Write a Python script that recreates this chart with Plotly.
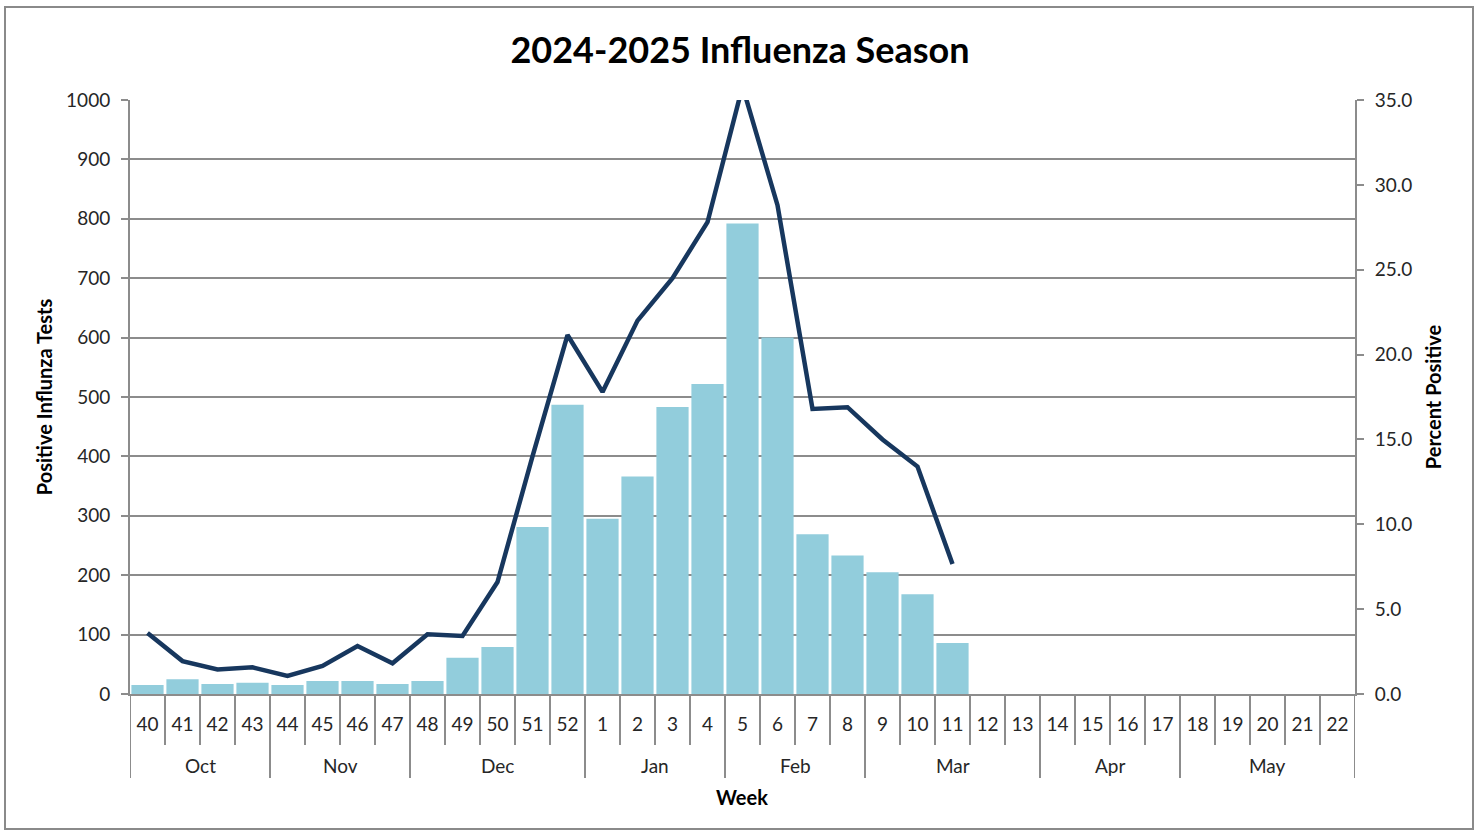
import plotly.graph_objects as go

weeks = ["40", "41", "42", "43", "44", "45", "46", "47", "48", "49", "50", "51", "52",
         "1", "2", "3", "4", "5", "6", "7", "8", "9", "10", "11", "12", "13",
         "14", "15", "16", "17", "18", "19", "20", "21", "22"]
positive_tests = [15, 25, 17, 19, 15, 22, 22, 17, 22, 61, 79, 281, 487,
                  295, 366, 483, 522, 792, 600, 269, 233, 205, 168, 86,
                  None, None, None, None, None, None, None, None, None, None, None]
percent_positive = [3.6, 1.94, 1.45, 1.57, 1.06, 1.65, 2.83, 1.81, 3.52, 3.42, 6.6, 14.0, 21.15,
                    17.8, 22.0, 24.5, 27.8, 35.8, 28.8, 16.8, 16.9, 15.0, 13.4, 7.66,
                    None, None, None, None, None, None, None, None, None, None, None]
months = ["Oct", "Nov", "Dec", "Jan", "Feb", "Mar", "Apr", "May"]
month_week_counts = [4, 4, 5, 4, 4, 5, 4, 5]

FONT = "Lato"
GRID = "#8c8c8c"
TXT = "#262626"

fig = go.Figure()
fig.add_trace(go.Bar(x=weeks, y=positive_tests, marker=dict(color="#92CDDC", line=dict(width=0)),
                     name="Positive Influenza Tests", yaxis="y"))
fig.add_trace(go.Scatter(x=weeks, y=percent_positive, mode="lines",
                         line=dict(color="#17375E", width=4.5), name="Percent Positive",
                         yaxis="y2", connectgaps=False))

L, R, T, B = 130, 1355, 100, 694
W, H = 1478, 831
pw, ph = R - L, B - T

def py(pix):
    return (B - pix) / ph

def pxp(pix):
    return (pix - L) / pw

shapes = []
month_bounds = [0]
for c in month_week_counts:
    month_bounds.append(month_bounds[-1] + c)
for i in range(len(weeks) + 1):
    long = i in month_bounds
    shapes.append(dict(type="line", xref="x", yref="paper", x0=i - 0.5, x1=i - 0.5,
                       y0=0, y1=py(778 if long else 745), line=dict(color=GRID, width=2)))
shapes.append(dict(type="rect", xref="paper", yref="paper", x0=pxp(5), x1=pxp(1473),
                   y0=py(829), y1=py(7), line=dict(color="#8a8a8a", width=2), layer="below"))

annotations = []
for m, a, b in zip(months, month_bounds[:-1], month_bounds[1:]):
    annotations.append(dict(x=(a + b - 1) / 2, y=py(766), xref="x", yref="paper", text=m,
                            showarrow=False, yanchor="middle",
                            font=dict(family=FONT, size=19, color=TXT)))
annotations.append(dict(x=pxp(742), y=py(797), xref="paper", yref="paper", text="<b>Week</b>",
                        showarrow=False, yanchor="middle", font=dict(family=FONT, size=20, color="#000")))

fig.update_layout(
    width=W, height=H,
    margin=dict(l=L, r=W - R, t=T, b=H - B),
    paper_bgcolor="white", plot_bgcolor="white",
    showlegend=False, bargap=0.08,
    title=dict(text="<b>2024-2025 Influenza Season</b>", x=740 / W, xanchor="center",
               y=1 - 50 / H, yanchor="middle", font=dict(family=FONT, size=36, color="#000")),
    xaxis=dict(type="category", categoryorder="array", categoryarray=weeks,
               range=[-0.5, len(weeks) - 0.5], showgrid=False, showline=True,
               linecolor=GRID, linewidth=2, ticks="", ticklabelstandoff=12,
               tickfont=dict(family=FONT, size=19, color=TXT), zeroline=False),
    yaxis=dict(range=[0, 1000], dtick=100, showgrid=True, gridcolor=GRID, gridwidth=2,
               showline=True, linecolor=GRID, linewidth=2, ticks="outside", ticklen=7,
               tickcolor=GRID, tickwidth=2, zeroline=False, ticklabelstandoff=7,
               tickfont=dict(family=FONT, size=19, color=TXT),
               title=dict(text="<b>Positive Influnza Tests</b>", standoff=8,
                          font=dict(family=FONT, size=20, color="#000"))),
    yaxis2=dict(range=[0, 35], dtick=5, tickformat=".1f", overlaying="y", side="right",
                showgrid=False, showline=True, linecolor=GRID, linewidth=2,
                ticks="outside", ticklen=7, tickcolor=GRID, tickwidth=2, zeroline=False,
                ticklabelstandoff=7,
                tickfont=dict(family=FONT, size=19, color=TXT),
                title=dict(text="<b>Percent Positive</b>", standoff=16,
                           font=dict(family=FONT, size=20, color="#000"))),
    shapes=shapes, annotations=annotations,
)

fig.write_html("out.html", config={"displayModeBar": False},
               post_script="document.body.style.margin='0';")
